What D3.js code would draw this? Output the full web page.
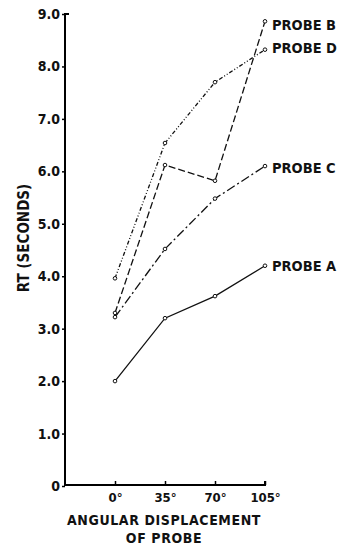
<!DOCTYPE html>
<html>
<head>
<meta charset="utf-8">
<script src="https://cdn.jsdelivr.net/npm/d3@7"></script>
<style>
  body { margin: 0; background: #fff; }
  svg text { font-family: "DejaVu Sans Condensed", "Liberation Sans Narrow", sans-serif; font-weight: bold; fill: #111; }
</style>
</head>
<body>
<svg class="chart"></svg>
<script>
var angles = [0, 35, 70, 105];
var angleLabels = ["0°", "35°", "70°", "105°"];
var yTicks = [0, 1, 2, 3, 4, 5, 6, 7, 8, 9];
var probeA = [2.0, 3.2, 3.62, 4.2];
var probeB = [3.3, 6.12, 5.82, 8.86];
var probeC = [3.22, 4.52, 5.48, 6.1];
var probeD = [3.96, 6.54, 7.7, 8.32];

var width = 341, height = 548;
var x = d3.scaleLinear().domain([-35, 105]).range([65, 265]);
var y = d3.scaleLinear().domain([0, 9]).range([486, 14]);

var svg = d3.select(".chart").attr("width", width).attr("height", height);

// y axis
var yAxis = svg.append("g").attr("transform", "translate(65,0)")
  .call(d3.axisLeft(y).tickValues(yTicks).tickSize(3)
    .tickFormat(function(d) { return d === 0 ? "0" : d.toFixed(1); }));
yAxis.select(".domain").attr("stroke-width", 2).attr("d", "M4,14H0V486");
yAxis.selectAll("line").attr("stroke-width", 1.5);
yAxis.selectAll("text").attr("font-size", 14).attr("x", -5);

// x axis
var xAxis = svg.append("g").attr("transform", "translate(0,485)")
  .call(d3.axisBottom(x).tickValues(angles).tickSize(-4).tickFormat(function(d, i) { return angleLabels[i]; }));
xAxis.select(".domain").attr("stroke-width", 2).attr("d", "M65,0H265V-4");
xAxis.selectAll("line").attr("stroke-width", 1.5);
xAxis.selectAll("text").attr("font-size", 13).attr("y", 8);

svg.append("text").attr("transform", "translate(29,238) rotate(-90)")
  .attr("text-anchor", "middle").attr("font-size", 15).text("RT (SECONDS)");
svg.append("text").attr("x", 164).attr("y", 525).attr("text-anchor", "middle")
  .attr("font-size", 14).attr("letter-spacing", 0.6).text("ANGULAR DISPLACEMENT");
svg.append("text").attr("x", 164).attr("y", 543).attr("text-anchor", "middle")
  .attr("font-size", 14).attr("letter-spacing", 0.6).text("OF PROBE");

var series = [
  { name: "PROBE A", values: probeA, dash: null, ly: 271 },
  { name: "PROBE B", values: probeB, dash: "7,3", ly: 30 },
  { name: "PROBE C", values: probeC, dash: "9,3,2,3", ly: 173 },
  { name: "PROBE D", values: probeD, dash: "4,2,1,2,1,2", ly: 53 }
];

var line = d3.line().x(function(d, i) { return x(angles[i]); }).y(function(d) { return y(d); });

series.forEach(function(s) {
  svg.append("path").datum(s.values)
    .attr("d", line).attr("fill", "none").attr("stroke", "#111")
    .attr("stroke-width", 1.3).attr("stroke-dasharray", s.dash);
  svg.selectAll(null).data(s.values).enter().append("circle")
    .attr("cx", function(d, i) { return x(angles[i]); })
    .attr("cy", function(d) { return y(d); })
    .attr("r", 1.8).attr("fill", "#fff").attr("stroke", "#111").attr("stroke-width", 1);
  svg.append("text").attr("x", 272).attr("y", s.ly).attr("font-size", 14.5).text(s.name);
});
</script>
</body>
</html>
